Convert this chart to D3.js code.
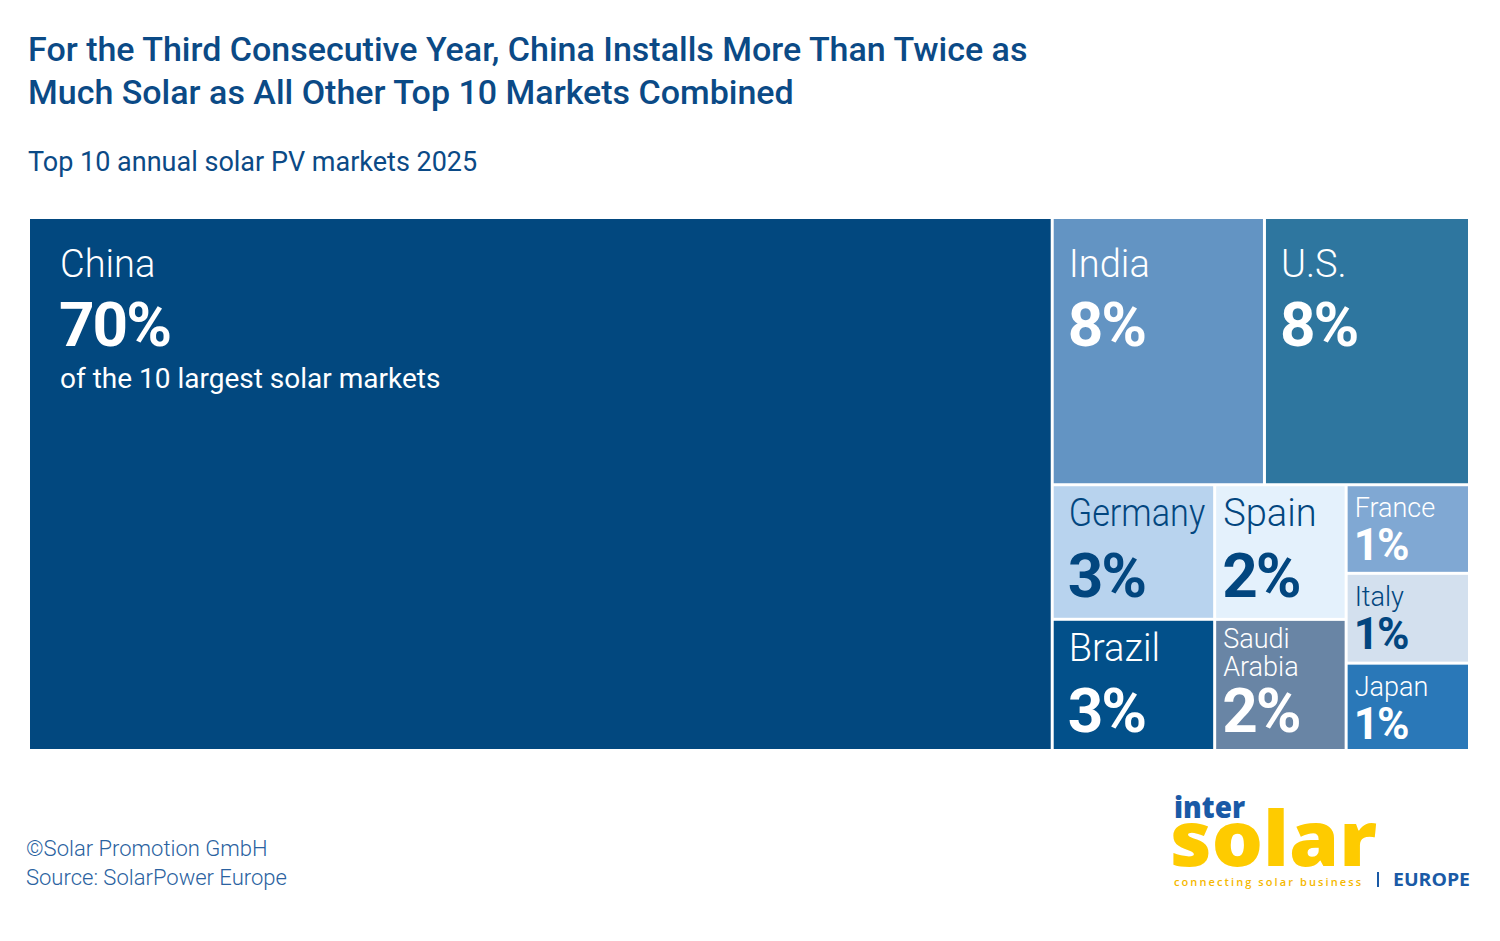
<!DOCTYPE html>
<html>
<head>
<meta charset="utf-8">
<script src="https://cdn.jsdelivr.net/npm/d3@7"></script>
<style>
  body { margin: 0; background: #fff; }
  svg { display: block; font-family: Roboto, "Open Sans", sans-serif; }
</style>
</head>
<body>
<svg id="chart" width="1500" height="941"></svg>
<script>
/* global d3 */

// data: share of the top 10 markets (area of each tile)
var countries = ["China", "India", "U.S.", "Germany", "Brazil", "Spain", "Saudi Arabia", "France", "Italy", "Japan"];
var shares    = [70.9, 7.37, 7.12, 2.84, 2.77, 2.30, 2.24, 1.42, 1.44, 1.40];
var pctLabels = ["70%", "8%", "8%", "3%", "3%", "2%", "2%", "1%", "1%", "1%"];

// how the tiles are grouped in the slice-and-dice layout
var groups = ["", "rest/top", "rest/top", "rest/bottom/c1", "rest/bottom/c1",
              "rest/bottom/c2", "rest/bottom/c2", "rest/bottom/c3", "rest/bottom/c3", "rest/bottom/c3"];

var fills = {
  "China": "#02487f", "India": "#6394c3", "U.S.": "#2e769f", "Germany": "#b8d3ee",
  "Brazil": "#02508a", "Spain": "#e4f1fc", "Saudi Arabia": "#6985a5",
  "France": "#80a8d3", "Italy": "#d3e0ee", "Japan": "#2a78b8"
};
var darkText = { "Germany": true, "Spain": true, "Italy": true };

var navy = "#0b4a86";

var svg = d3.select("#chart");

// ---------- titles ----------
var title = svg.append("g").attr("fill", navy).style("font-weight", 500).style("font-size", "34px");
title.append("text").attr("x", 28).attr("y", 61)
  .text("For the Third Consecutive Year, China Installs More Than Twice as");
title.append("text").attr("x", 28).attr("y", 104)
  .text("Much Solar as All Other Top 10 Markets Combined");

svg.append("text").attr("x", 28).attr("y", 171)
  .attr("fill", navy).style("font-size", "27px").style("font-weight", 400)
  .text("Top 10 annual solar PV markets 2025");

// ---------- treemap ----------
var box = { x: 30, y: 219, w: 1438, h: 530 };

// build a nested tree from the group paths
var rootData = { name: "root", children: [] };
countries.forEach(function(c, i) {
  var parent = rootData;
  if (groups[i]) {
    groups[i].split("/").forEach(function(key) {
      var next = parent.children.find(function(k) { return k.name === key; });
      if (!next) { next = { name: key, children: [] }; parent.children.push(next); }
      parent = next;
    });
  }
  parent.children.push({ name: c, value: shares[i], pct: pctLabels[i] });
});

var root = d3.hierarchy(rootData).sum(function(d) { return d.value || 0; });

d3.treemap()
  .tile(d3.treemapSliceDice)
  .size([box.w, box.h])
  .paddingInner(3)
  .round(false)(root);

var cells = svg.append("g")
  .attr("transform", "translate(" + box.x + "," + box.y + ")")
  .selectAll("g.cell")
  .data(root.leaves())
  .enter().append("g")
  .attr("class", "cell")
  .attr("transform", function(d) { return "translate(" + d.x0 + "," + d.y0 + ")"; });

cells.append("rect")
  .attr("width", function(d) { return d.x1 - d.x0; })
  .attr("height", function(d) { return d.y1 - d.y0; })
  .attr("fill", function(d) { return fills[d.data.name]; });

cells.each(function(d) {
  var g = d3.select(this);
  var w = d.x1 - d.x0, h = d.y1 - d.y0;
  var col = darkText[d.data.name] ? "#02467f" : "#fff";

  // text sizes by tile size
  var tier = h > 200 ? "big" : h > 110 ? "mid" : "small";
  var pad = w > 500 ? 30 : w > 150 ? 15 : 7;
  var nameSize = tier === "small" ? 27 : 38;
  var nameY = tier === "big" ? 58 : tier === "mid" ? 40 : 31;
  var pctSize = tier === "small" ? 44 : 62;
  var pctY = tier === "big" ? 127 : tier === "mid" ? 111 : 74;

  var name = g.append("text")
    .attr("x", pad).attr("y", nameY)
    .attr("fill", col)
    .style("font-size", nameSize + "px").style("font-weight", 300)
    .text(d.data.name);

  var avail = w - pad - 8;
  if (name.node().getComputedTextLength() > avail) {
    var words = d.data.name.split(" ");
    if (words.length > 1) {
      // wrap onto two smaller lines
      name.text(null).style("font-size", "27px").attr("y", nameY - 13);
      words.forEach(function(wd, k) {
        name.append("tspan").attr("x", pad).attr("dy", k ? 28 : 0).text(wd);
      });
    } else {
      name.attr("textLength", avail).attr("lengthAdjust", "spacingAndGlyphs");
    }
  }

  g.append("text")
    .attr("x", pad - 1).attr("y", pctY)
    .attr("fill", col)
    .style("font-size", pctSize + "px").style("font-weight", 700)
    .style("letter-spacing", "-2px")
    .text(d.data.pct);

  if (tier === "big" && w > 500) {
    g.append("text")
      .attr("x", pad).attr("y", 169)
      .attr("fill", "#fff")
      .style("font-size", "28px").style("font-weight", 400)
      .text("of the 10 largest solar markets");
  }
});

// ---------- footer ----------
var foot = svg.append("g").attr("fill", "#2a62a0").style("font-size", "22px").style("font-weight", 300);
foot.append("text").attr("x", 26).attr("y", 856).text("©Solar Promotion GmbH");
foot.append("text").attr("x", 26).attr("y", 885).text("Source: SolarPower Europe");

// ---------- logo ----------
var logo = svg.append("g").style("font-family", "'Open Sans', Lato, sans-serif");
logo.append("text").attr("x", 1174).attr("y", 818)
  .attr("fill", "#1a5aa6").style("font-size", "30px").style("font-weight", 800)
  .attr("textLength", 71).attr("lengthAdjust", "spacingAndGlyphs")
  .text("inter");
logo.append("text").attr("x", 1170).attr("y", 866)
  .attr("fill", "#fecb00").style("font-size", "76px").style("font-weight", 800)
  .attr("textLength", 207).attr("lengthAdjust", "spacingAndGlyphs")
  .text("solar");
logo.append("text").attr("x", 1174).attr("y", 886)
  .attr("fill", "#f5b800").style("font-size", "11px").style("font-weight", 600)
  .attr("textLength", 187).attr("lengthAdjust", "spacing")
  .text("connecting solar business");
logo.append("rect").attr("x", 1377).attr("y", 872).attr("width", 2).attr("height", 15).attr("fill", "#1a5aa6");
logo.append("text").attr("x", 1393).attr("y", 886)
  .attr("fill", "#1a5aa6").style("font-size", "18px").style("font-weight", 700)
  .attr("textLength", 77).attr("lengthAdjust", "spacingAndGlyphs")
  .text("EUROPE");
</script>
</body>
</html>
